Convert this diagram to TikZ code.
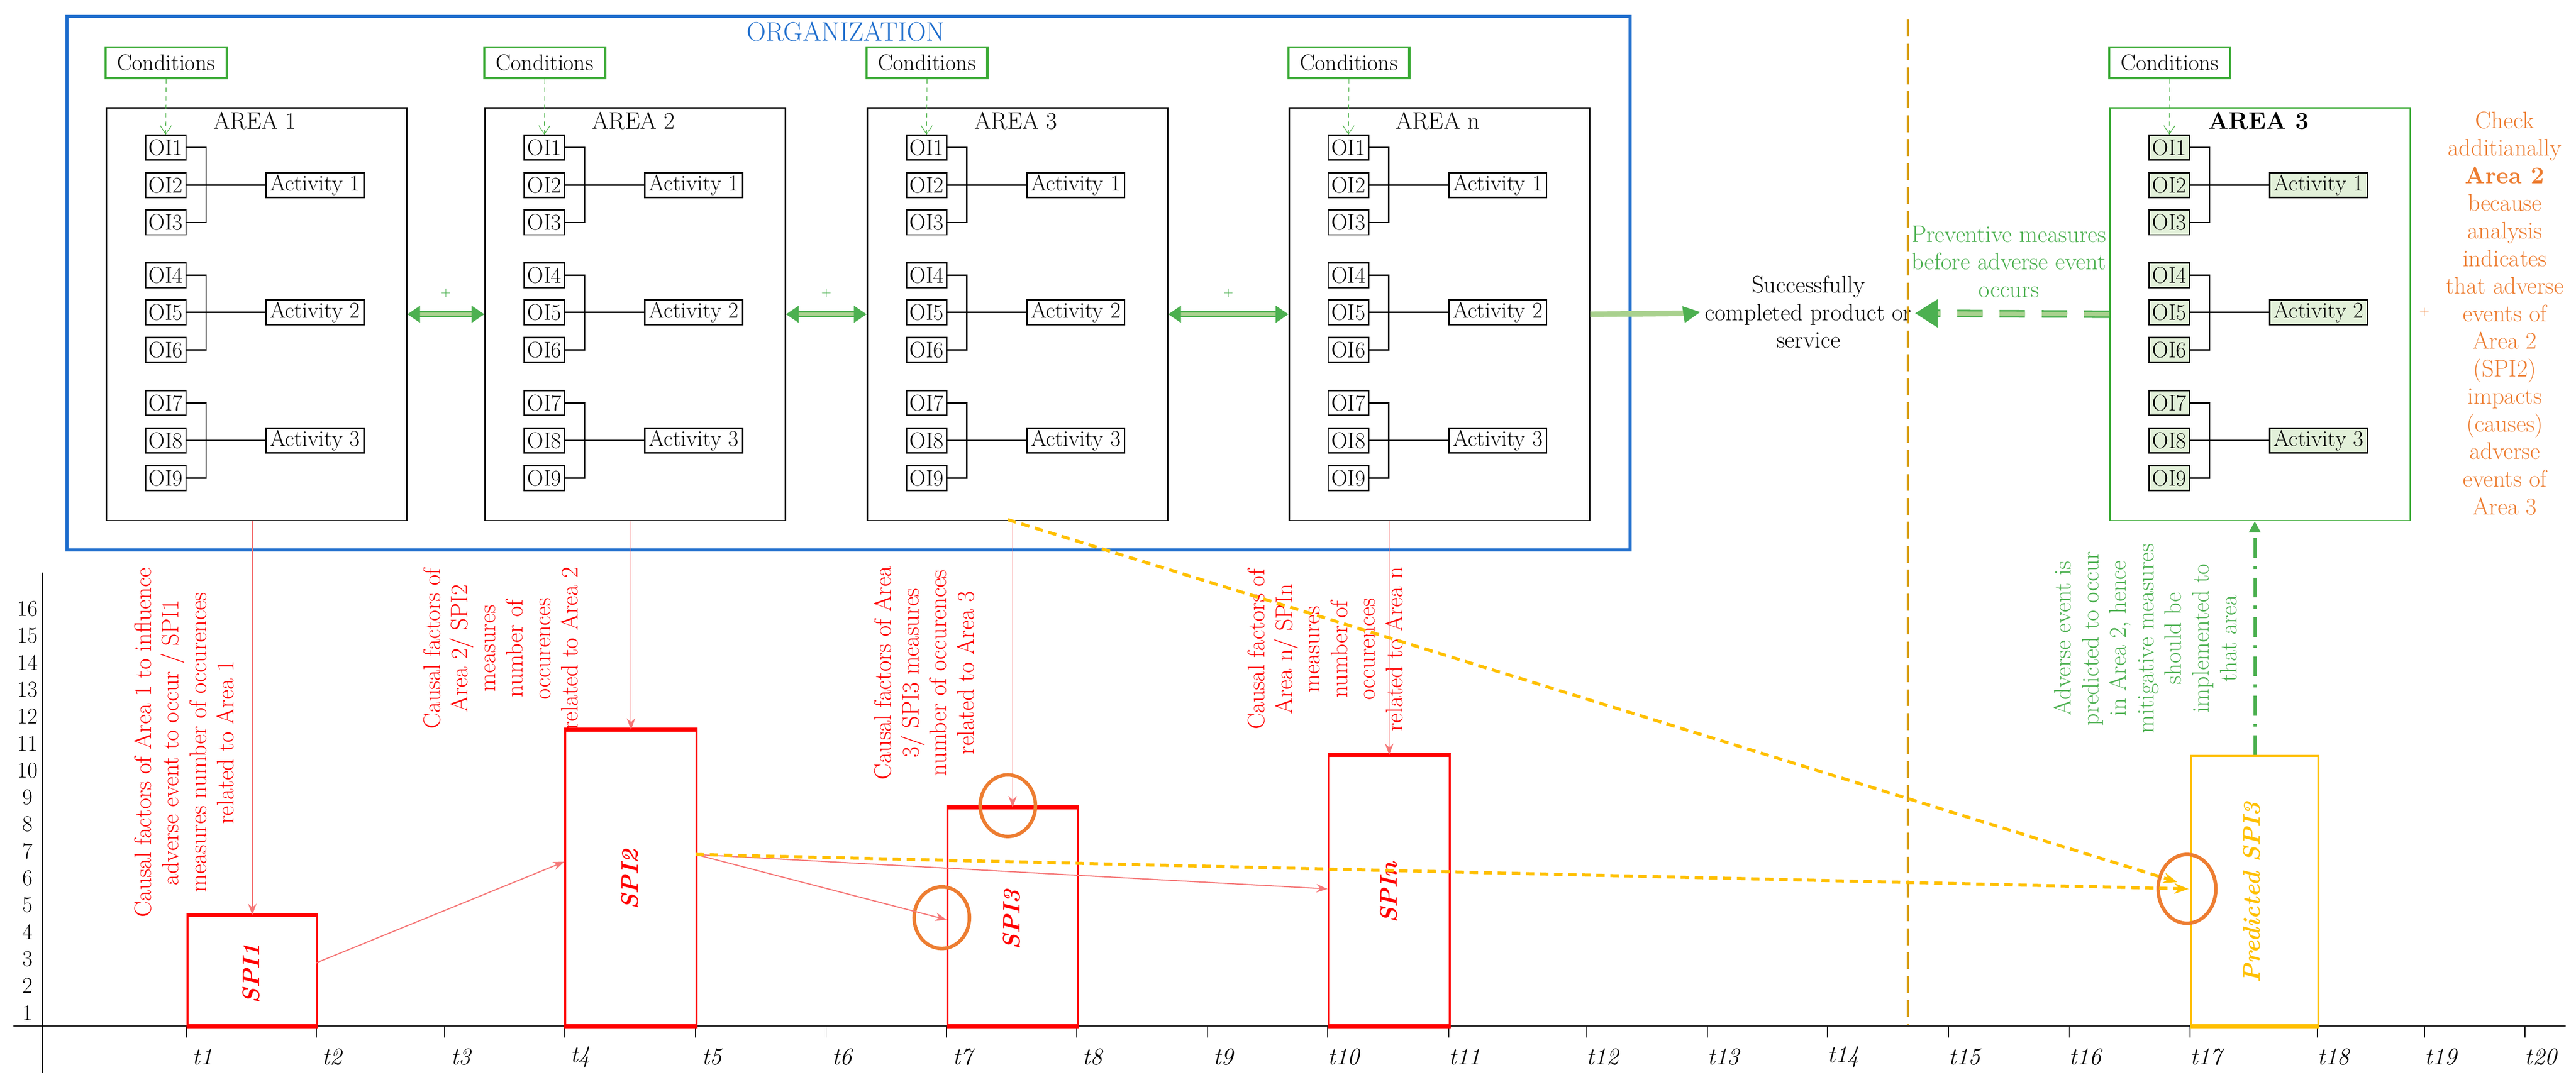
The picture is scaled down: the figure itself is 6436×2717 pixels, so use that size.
\documentclass[tikz,border=0pt]{standalone}
\usetikzlibrary{arrows.meta,calc,shapes.geometric}
\definecolor{orgblue}{RGB}{31,110,205}
\definecolor{cgreen}{RGB}{58,170,53}
\definecolor{lgreen}{RGB}{169,209,142}
\definecolor{pgreen}{RGB}{226,240,217}
\definecolor{tgreen}{RGB}{76,176,80}
\definecolor{myred}{RGB}{255,0,0}
\definecolor{lred}{RGB}{245,120,120}
\definecolor{myorange}{RGB}{237,125,49}
\definecolor{mygold}{RGB}{214,155,10}
\definecolor{myyellow}{RGB}{255,192,0}
\newcommand\myarea[5]{%
 \node[areabox,draw=#5,anchor=north west] (#1) at (#2,268) {};
 \node[font=\fontsize{17}{19}\selectfont] at ({#2+373},302) {#3};
 \node[cond] (#1c) at ({#2+151},157) {Conditions};
 \foreach \i/\y in {1/369,2/463,3/556,4/688,5/781,6/875,7/1007,8/1101,9/1195}
   \node[oi,fill=#4] (#1o\i) at ({#2+150},\y) {OI\i};
 \foreach \j/\y in {1/463,2/781,3/1101}
   \node[act,fill=#4] (#1a\j) at ({#2+523},\y) {Activity \j};
 \foreach \a/\b/\c/\d in {1/2/3/1,4/5/6/2,7/8/9/3}{
   \draw[line width=1pt] (#1o\a.east) -| ($(#1o\a.east)!0.5!(#1a\d.west)+(-50,0)$) |- (#1o\c.east);
   \draw[line width=1pt] (#1o\b.east) -- (#1a\d.west);}
 \draw[condarr] (#1c.south) -- (#1o1.north);
}
\begin{document}
\begin{tikzpicture}[x=0.01cm,y=-0.01cm,font=\fontsize{17}{19.6}\selectfont,
 areabox/.style={line width=1pt,minimum width=7.5cm,minimum height=10.31cm,inner sep=0},
 cond/.style={draw=cgreen,line width=1.6pt,minimum width=3.02cm,minimum height=0.77cm,inner sep=0,font=\fontsize{16}{19}\selectfont},
 oi/.style={draw,line width=1pt,minimum width=1.01cm,minimum height=0.62cm,inner sep=0,font=\fontsize{16}{19}\selectfont},
 act/.style={draw,line width=1pt,minimum width=2.44cm,minimum height=0.62cm,inner sep=0,font=\fontsize{16}{19}\selectfont},
 condarr/.style={cgreen,dashed,-{Straight Barb[length=6pt,width=8pt]}},
 gdbl/.style={draw=tgreen,double=lgreen,double distance=2.5pt,line width=1pt,{Triangle[length=9pt,width=12pt]}-{Triangle[length=9pt,width=12pt]}},
 bar/.style={draw=myred,line width=1.3pt,anchor=south west,inner sep=0},
 barlab/.style={rotate=90,text=myred,font=\fontsize{17}{20}\selectfont\bfseries\itshape},
 rtext/.style={rotate=90,text=myred,align=center},
 rdrop/.style={lred,line width=0.6pt,-{Stealth[length=8pt]}},
 rarr/.style={lred,line width=0.8pt,-{Stealth[length=8pt]}},
 ydash/.style={myyellow,line width=2.2pt,dash pattern=on 6pt off 4pt,-{Stealth[length=10pt]}},
 circ/.style={draw=myorange,line width=2.5pt,ellipse,inner sep=0}]
\useasboundingbox (0,0) rectangle (6436,2717);
% organization
\node[draw=orgblue,line width=2.2pt,minimum width=39.02cm,minimum height=13.33cm,anchor=north west,inner sep=0] (org) at (164,37) {};
\node[text=orgblue,font=\fontsize{19}{22}\selectfont] (orgt) at (2113,79) {ORGANIZATION};
\myarea{a1}{264}{AREA 1}{white}{black}
\myarea{a2}{1210}{AREA 2}{white}{black}
\myarea{a3}{2165}{AREA 3}{white}{black}
\myarea{an}{3219}{AREA n}{white}{black}
\myarea{ar}{5270}{\textbf{AREA 3}}{pgreen}{cgreen}
\draw[gdbl] (a1.east) -- node[above=8pt,text=tgreen,font=\small]{+} (a2.west);
\draw[gdbl] (a2.east) -- node[above=8pt,text=tgreen,font=\small]{+} (a3.west);
\draw[gdbl] (a3.east) -- node[above=8pt,text=tgreen,font=\small]{+} (an.west);
\node[align=center] (succ) at (4518,780) {Successfully\\completed product or\\service};
\draw[lgreen,line width=4pt] (an.east) -- (4230,783);
\draw[tgreen,-{Triangle[length=12pt,width=12pt]},line width=0.5pt] (4228,783) -- (succ.west);
% preventive
\coordinate (pv) at (4785,783);
\draw[draw=tgreen,double=lgreen,double distance=3pt,line width=1.2pt,dash pattern=on 18pt off 12pt,-{Triangle[length=16pt,width=20pt]}] (ar.west) -- (pv);
\node[text=tgreen,align=center] (prev) at (5019,654) {Preventive measures\\before adverse event\\occurs};
\node[text=myorange,align=center] (chk) at (6258,783) {Check\\additianally\\\textbf{Area 2}\\because\\analysis\\indicates\\that adverse\\events of\\Area 2\\(SPI2)\\impacts\\(causes)\\adverse\\events of\\Area 3};
\node[text=myorange,font=\small] (plus) at (6057,780) {+};
% vertical dashed gold line
\coordinate (g1) at (4767,49); \coordinate (g2) at (4767,2566);
\draw[mygold,line width=1.5pt,dash pattern=on 12pt off 5pt] (g1) -- (g2);
% axes
\coordinate (x0) at (34,2565); \coordinate (x1) at (6410,2565);
\draw[line width=1.2pt,black!80] (x0) -- (x1);
\coordinate (y0) at (106,1431); \coordinate (y1) at (106,2683);
\draw[line width=0.8pt] (y0) -- (y1);
\foreach \k in {1,...,16} \node[font=\fontsize{16}{18}\selectfont] (yl\k) at (69,{2565-(\k-0.5)*67.3}) {\k};
\foreach \x [count=\k] in {466,790,1111,1410,1738,2064,2365,2690,3017,3317,3620,3964,4266,4566,4868,5170,5472,5790,6058,6308}{
  \draw[line width=0.7pt] (\x,2565) -- (\x,2594);
  \node[font=\fontsize{17}{18}\selectfont\itshape] (tl\k) at ({\x+40},2642) {t\k};}
% bars
\node[bar,minimum width=3.24cm,minimum height=2.73cm] (spi1) at (466,2565) {};
\node[bar,minimum width=3.28cm,minimum height=7.36cm] (spi2) at (1410,2565) {};
\node[bar,minimum width=3.25cm,minimum height=5.42cm] (spi3) at (2365,2565) {};
\node[bar,minimum width=3.03cm,minimum height=6.73cm] (spin) at (3317,2565) {};
\node[bar,draw=myyellow,minimum width=3.18cm,minimum height=6.73cm] (pred) at (5472,2565) {};
\foreach \b in {spi1,spi2,spi3,spin}{
  \draw[myred,line width=3pt] (\b.north west) -- (\b.north east);
  \draw[myred,line width=3pt] (\b.south west) -- (\b.south east);}
\draw[myyellow,line width=3pt] (pred.south west) -- (pred.south east);
\node[barlab] at (628,2434) {SPI1};
\node[barlab] at (1574,2199) {SPI2};
\node[barlab] at (2527,2299) {SPI3};
\node[barlab] at (3470,2231) {SPIn};
\node[barlab,text=myyellow] at (5626,2231) {Predicted SPI3};
% red texts
\node[rtext] (r1) at (460,1856) {Causal factors of Area 1 to influence\\adverse event to occur / SPI1\\measures number of occurences\\related to Area 1};
\node[rtext] (r2) at (1251,1621) {Causal factors of\\Area 2/ SPI2\\measures\\number of\\occurences\\related to Area 2};
\node[rtext] (r3) at (2309,1682) {Causal factors of Area\\3/ SPI3 measures\\number of occurences\\related to Area 3};
\node[rtext] (r4) at (3311,1623) {Causal factors of\\Area n/ SPIn\\measures\\number of\\occurences\\related to Area n};
\node[rotate=90,text=tgreen,align=center] (gt) at (5360,1596) {Adverse event is\\predicted to occur\\in Area 2, hence\\mitigative measures\\should be\\implemented to\\that area};
% drop arrows
\draw[rdrop] (spi1.north |- a1.south) -- (spi1.north);
\draw[rdrop] (spi2.north |- a2.south) -- (spi2.north);
\draw[rdrop] (spi3.north |- a3.south) -- (spi3.north);
\draw[rdrop] (spin.north |- an.south) -- (spin.north);
% circles
\node[circ,minimum width=1.38cm,minimum height=1.54cm] (c1) at (2518,2014) {};
\node[circ,minimum width=1.38cm,minimum height=1.54cm] (c2) at (2353,2294) {};
\node[circ,minimum width=1.44cm,minimum height=1.72cm] (c3) at (5464,2222) {};
% links between bars
\coordinate (s1) at (790,2407); \coordinate (s2) at (1738,2136);
\coordinate (e2) at (1410,2154); \coordinate (e3) at (2365,2299); \coordinate (en) at (3317,2222);
\draw[rarr] (s1) -- (e2);
\draw[rarr] (s2) -- (e3);
\draw[rarr] (s2) -- (en);
\coordinate (ys) at (2518,1299);
\coordinate (ye1) at (5440,2205); \coordinate (ye2) at (5468,2222);
\draw[ydash] (ys) -- (ye1);
\draw[ydash] (s2) -- (ye2);
% green dash-dot
\draw[tgreen,line width=2.2pt,dash pattern=on 14pt off 6pt on 2pt off 6pt,-{Triangle[length=8pt,width=8pt]}] (pred.north) -- (pred.north |- ar.south);
\end{tikzpicture}
\end{document}
